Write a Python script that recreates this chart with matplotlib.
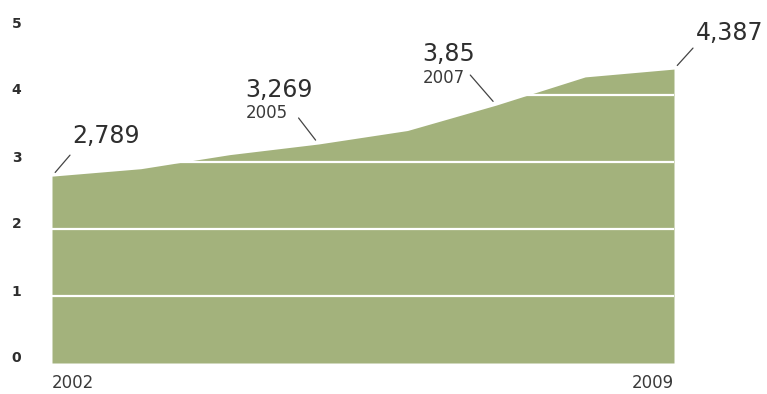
import matplotlib.pyplot as plt
from matplotlib.transforms import ScaledTranslation

# data
years = [2002, 2003, 2004, 2005, 2006, 2007, 2008, 2009]
values = [2.789, 2.90, 3.11, 3.269, 3.47, 3.85, 4.27, 4.387]
y_ticks = [0, 1, 2, 3, 4, 5]
x_tick_labels = ['2002', '2009']

# labelled points: (year, value text, year text or None)
callouts = [
    (2002, '2,789', None),
    (2005, '3,269', '2005'),
    (2007, '3,85', '2007'),
    (2009, '4,387', None),
]
# offsets in pixels: leader end, value text, year text
offsets = {
    2002: ((18, 21), (20, 33), None),
    2005: ((-20, 26), (-73, 47), (-73, 26)),
    2007: ((-26, 30), (-74, 44), (-74, 22)),
    2009: ((19, 21), (22, 29), None),
}

green = '#a3b27c'
dark = '#2e2e2e'

fig = plt.figure(figsize=(7.67, 3.94), dpi=100)
ax = fig.add_axes([52 / 767, 31 / 394, 622 / 767, 335 / 394])

ax.fill_between(years, values, 0, color=green, linewidth=0, zorder=1)
for t in y_ticks[1:5]:
    ax.axhline(t, color='white', lw=1.6, zorder=2)

ax.set_xlim(2002, 2009)
ax.set_ylim(0, 5)
for s in ax.spines.values():
    s.set_visible(False)

ax.set_yticks(y_ticks)
ax.set_yticklabels([str(t) for t in y_ticks], fontsize=10, fontweight='bold', color=dark)
ax.tick_params(axis='y', length=0, pad=22)
for lab in ax.get_yticklabels():
    lab.set_transform(lab.get_transform() + ScaledTranslation(0, 6 / 100, fig.dpi_scale_trans))

ax.set_xticks([years[0], years[-1]])
ax.set_xticklabels(x_tick_labels, fontsize=12, color='#3a3a3a')
ax.tick_params(axis='x', length=0, pad=8)
xl = ax.get_xticklabels()
xl[0].set_ha('left')
xl[1].set_ha('right')

for yr, vtxt, ytxt in callouts:
    v = values[years.index(yr)]
    p1, tv, ty = offsets[yr]
    ax.annotate('', xy=(yr, v), xytext=p1, textcoords='offset pixels',
                arrowprops=dict(arrowstyle='-', color='#444444', lw=0.9,
                                shrinkA=0, shrinkB=3.5),
                annotation_clip=False)
    ax.annotate(vtxt, xy=(yr, v), xytext=tv, textcoords='offset pixels',
                fontsize=17, color=dark, ha='left', va='baseline',
                annotation_clip=False)
    if ytxt:
        ax.annotate(ytxt, xy=(yr, v), xytext=ty, textcoords='offset pixels',
                    fontsize=12, color='#3a3a3a', ha='left', va='baseline',
                    annotation_clip=False)

fig.savefig('out.png', dpi=100)
